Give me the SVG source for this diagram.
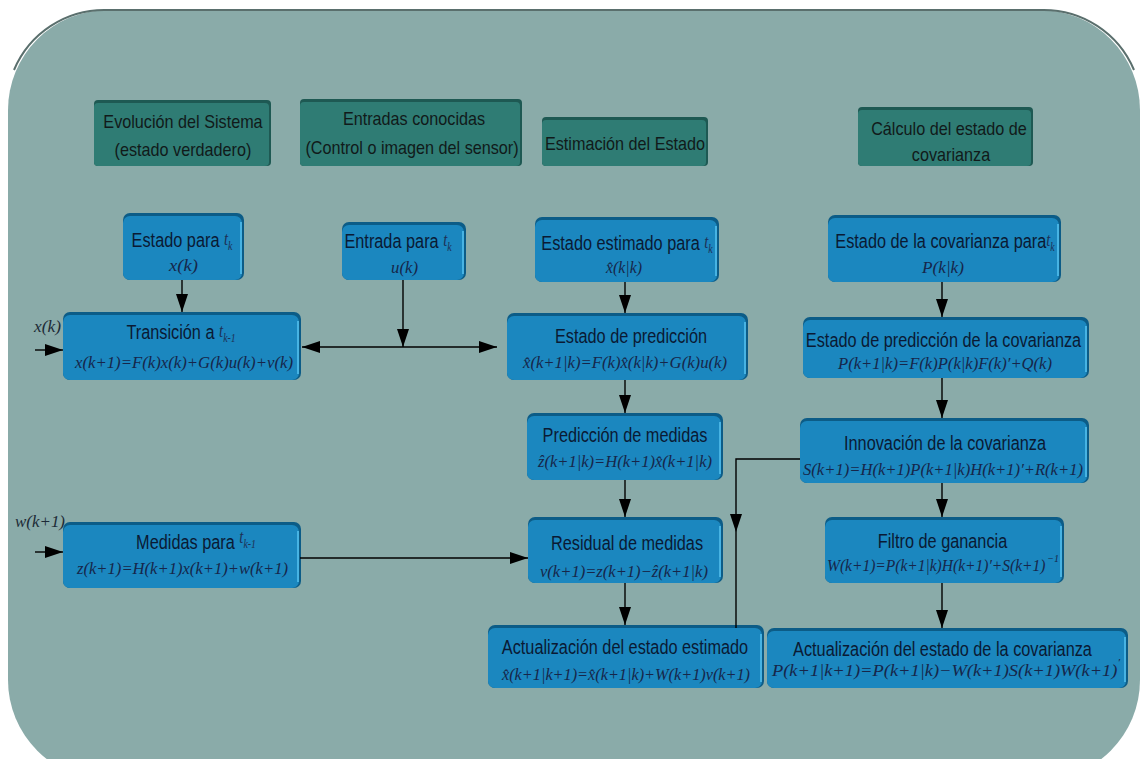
<svg xmlns="http://www.w3.org/2000/svg" width="1144" height="759" viewBox="0 0 1144 759">
  <style>
    .edge { fill: #0c5c87; }
    .face { fill: #1b87bf; }
    .rim { fill: #47b3e3; }
    .hedge { fill: #1e5953; }
    .hface { fill: #2f7c74; }
    .ttl { font-family: "Liberation Sans", Arial, sans-serif; font-size: 20px; fill: #0a1a34; text-anchor: middle; }
    .hdr { font-family: "Liberation Sans", Arial, sans-serif; font-size: 18px; fill: #111a1a; text-anchor: middle; }
    .t { font-family: "Liberation Serif", "Times New Roman", serif; font-style: italic; font-size: 18px; fill: #1d2f55; }
    .sb { font-family: "Liberation Serif", "Times New Roman", serif; font-style: italic; font-size: 12px; fill: #1d2f55; }
    .fx { font-family: "Liberation Serif", "Times New Roman", serif; font-style: italic; font-size: 17px; fill: #16264a; }
    .sup { font-size: 11px; }
    .lbl { font-family: "Liberation Serif", "Times New Roman", serif; font-style: italic; font-size: 17px; fill: #1c2a36; }
    .wire { fill: none; stroke: #000; stroke-width: 1.4; }
  </style>
  <defs>
    <marker id="arrow" markerUnits="userSpaceOnUse" markerWidth="18" markerHeight="12" refX="18" refY="6" orient="auto-start-reverse">
      <path d="M0,0 L18,6 L0,12 Z" fill="#000"/>
    </marker>
  </defs>

  <!-- panel -->
  <rect x="8" y="10" width="1132" height="770" rx="100" ry="100" fill="#8aaba9"/>
  <path d="M14,70 A98 98 0 0 1 106,10 H1042 A98 98 0 0 1 1134,70" fill="none" stroke="#5a6f6d" stroke-width="2"/>

  <!-- column headers -->
  <g id="hdr-evolucion">
    <rect class="hedge" x="94" y="100" width="177" height="66" rx="4"/>
    <rect class="hface" x="94" y="103" width="175" height="63" rx="4"/>
    <text class="hdr" transform="translate(183 128) scale(0.9 1)">Evolución del Sistema</text>
    <text class="hdr" transform="translate(183 156) scale(0.9 1)">(estado verdadero)</text>
  </g>
  <g id="hdr-entradas">
    <rect class="hedge" x="300" y="99" width="222" height="67" rx="4"/>
    <rect class="hface" x="300" y="102" width="220" height="64" rx="4"/>
    <text class="hdr" transform="translate(414 125) scale(0.9 1)">Entradas conocidas</text>
    <text class="hdr" transform="translate(412 154) scale(0.9 1)">(Control o imagen del sensor)</text>
  </g>
  <g id="hdr-estimacion">
    <rect class="hedge" x="542" y="117" width="166" height="49" rx="4"/>
    <rect class="hface" x="542" y="120" width="164" height="46" rx="4"/>
    <text class="hdr" transform="translate(625 150) scale(0.9 1)">Estimación del Estado</text>
  </g>
  <g id="hdr-covarianza">
    <rect class="hedge" x="858" y="107" width="175" height="59" rx="4"/>
    <rect class="hface" x="858" y="110" width="173" height="56" rx="4"/>
    <text class="hdr" transform="translate(949 135) scale(0.9 1)">Cálculo del estado de</text>
    <text class="hdr" transform="translate(951 161) scale(0.9 1)">covarianza</text>
  </g>

  <!-- true system evolution -->
  <g id="estado-tk">
    <rect class="edge" x="123" y="213" width="121" height="67" rx="7"/>
    <rect class="face" x="123" y="216" width="119" height="64" rx="7"/>
    <rect class="rim" x="240" y="222" width="2" height="52"/>
    <text class="ttl" transform="translate(182 247) scale(0.815 1)">Estado para  <tspan class="t" dy="-2">t</tspan><tspan class="sb" dy="5">k</tspan></text>
    <text class="fx" x="169" y="271" textLength="29" lengthAdjust="spacingAndGlyphs">x(k)</text>
  </g>
  <g id="transicion">
    <rect class="edge" x="63" y="312" width="238" height="68" rx="7"/>
    <rect class="face" x="63" y="315" width="236" height="65" rx="7"/>
    <rect class="rim" x="297" y="321" width="2" height="53"/>
    <text class="ttl" transform="translate(181 339) scale(0.815 1)">Transición a  <tspan class="t" dy="-2">t</tspan><tspan class="sb" dy="5">k-1</tspan></text>
    <text class="fx" x="75" y="368" textLength="218" lengthAdjust="spacingAndGlyphs">x(k+1)=F(k)x(k)+G(k)u(k)+v(k)</text>
  </g>
  <g id="medidas">
    <rect class="edge" x="63" y="522" width="238" height="66" rx="7"/>
    <rect class="face" x="63" y="525" width="236" height="63" rx="7"/>
    <rect class="rim" x="297" y="531" width="2" height="51"/>
    <text class="ttl" transform="translate(196 549) scale(0.815 1)">Medidas para <tspan class="t" dy="-6">t</tspan><tspan class="sb" dy="5">k-1</tspan></text>
    <text class="fx" x="77" y="574" textLength="211" lengthAdjust="spacingAndGlyphs">z(k+1)=H(k+1)x(k+1)+w(k+1)</text>
  </g>

  <!-- known inputs -->
  <g id="entrada-tk">
    <rect class="edge" x="342" y="222" width="124" height="58" rx="7"/>
    <rect class="face" x="342" y="225" width="122" height="55" rx="7"/>
    <rect class="rim" x="462" y="231" width="2" height="43"/>
    <text class="ttl" transform="translate(398 248) scale(0.815 1)">Entrada para <tspan class="t" dy="-2">t</tspan><tspan class="sb" dy="5">k</tspan></text>
    <text class="fx" x="391" y="273" textLength="27" lengthAdjust="spacingAndGlyphs">u(k)</text>
  </g>

  <!-- state estimation -->
  <g id="estado-estimado">
    <rect class="edge" x="535" y="217" width="184" height="65" rx="7"/>
    <rect class="face" x="535" y="220" width="182" height="62" rx="7"/>
    <rect class="rim" x="715" y="226" width="2" height="50"/>
    <text class="ttl" transform="translate(627 250) scale(0.815 1)">Estado estimado para <tspan class="t" dy="-2">t</tspan><tspan class="sb" dy="5">k</tspan></text>
    <text class="fx" x="606" y="273" textLength="36" lengthAdjust="spacingAndGlyphs">x̂(k|k)</text>
  </g>
  <g id="estado-prediccion">
    <rect class="edge" x="507" y="313" width="241" height="67" rx="7"/>
    <rect class="face" x="507" y="316" width="239" height="64" rx="7"/>
    <rect class="rim" x="744" y="322" width="2" height="52"/>
    <text class="ttl" transform="translate(631 343) scale(0.815 1)">Estado de predicción</text>
    <text class="fx" x="523" y="368" textLength="204" lengthAdjust="spacingAndGlyphs">x̂(k+1|k)=F(k)x̂(k|k)+G(k)u(k)</text>
  </g>
  <g id="prediccion-medidas">
    <rect class="edge" x="527" y="413" width="196" height="67" rx="7"/>
    <rect class="face" x="527" y="416" width="194" height="64" rx="7"/>
    <rect class="rim" x="719" y="422" width="2" height="52"/>
    <text class="ttl" transform="translate(625 442) scale(0.815 1)">Predicción de medidas</text>
    <text class="fx" x="538" y="467" textLength="174" lengthAdjust="spacingAndGlyphs">ẑ(k+1|k)=H(k+1)x̂(k+1|k)</text>
  </g>
  <g id="residual">
    <rect class="edge" x="528" y="517" width="195" height="66" rx="7"/>
    <rect class="face" x="528" y="520" width="193" height="63" rx="7"/>
    <rect class="rim" x="719" y="526" width="2" height="51"/>
    <text class="ttl" transform="translate(627 550) scale(0.815 1)">Residual de medidas</text>
    <text class="fx" x="540" y="577" textLength="168" lengthAdjust="spacingAndGlyphs">ν(k+1)=z(k+1)−ẑ(k+1|k)</text>
  </g>
  <g id="actualizacion-estado">
    <rect class="edge" x="488" y="625" width="276" height="63" rx="7"/>
    <rect class="face" x="488" y="628" width="274" height="60" rx="7"/>
    <rect class="rim" x="760" y="634" width="2" height="48"/>
    <text class="ttl" transform="translate(625 654) scale(0.815 1)">Actualización del estado estimado</text>
    <text class="fx" x="502" y="680" textLength="248" lengthAdjust="spacingAndGlyphs">x̂(k+1|k+1)=x̂(k+1|k)+W(k+1)ν(k+1)</text>
  </g>

  <!-- covariance computation -->
  <g id="covarianza-tk">
    <rect class="edge" x="828" y="215" width="233" height="67" rx="7"/>
    <rect class="face" x="828" y="218" width="231" height="64" rx="7"/>
    <rect class="rim" x="1057" y="224" width="2" height="52"/>
    <text class="ttl" transform="translate(945 248) scale(0.815 1)">Estado de la covarianza para<tspan class="t" dy="-2">t</tspan><tspan class="sb" dy="5">k</tspan></text>
    <text class="fx" x="922" y="273" textLength="42" lengthAdjust="spacingAndGlyphs">P(k|k)</text>
  </g>
  <g id="prediccion-covarianza">
    <rect class="edge" x="803" y="317" width="286" height="61" rx="7"/>
    <rect class="face" x="803" y="320" width="284" height="58" rx="7"/>
    <rect class="rim" x="1085" y="326" width="2" height="46"/>
    <text class="ttl" transform="translate(943.5 347) scale(0.815 1)">Estado de predicción de la covarianza</text>
    <text class="fx" x="838" y="369" textLength="214" lengthAdjust="spacingAndGlyphs">P(k+1|k)=F(k)P(k|k)F(k)′+Q(k)</text>
  </g>
  <g id="innovacion">
    <rect class="edge" x="800" y="418" width="289" height="65" rx="7"/>
    <rect class="face" x="800" y="421" width="287" height="62" rx="7"/>
    <rect class="rim" x="1085" y="427" width="2" height="50"/>
    <text class="ttl" transform="translate(945 450) scale(0.815 1)">Innovación de la covarianza</text>
    <text class="fx" x="803" y="475" textLength="280" lengthAdjust="spacingAndGlyphs">S(k+1)=H(k+1)P(k+1|k)H(k+1)′+R(k+1)</text>
  </g>
  <g id="filtro-ganancia">
    <rect class="edge" x="825" y="517" width="239" height="66" rx="7"/>
    <rect class="face" x="825" y="520" width="237" height="63" rx="7"/>
    <rect class="rim" x="1060" y="526" width="2" height="51"/>
    <text class="ttl" transform="translate(942.5 548) scale(0.815 1)">Filtro de ganancia</text>
    <text class="fx" x="827" y="571" textLength="232" lengthAdjust="spacingAndGlyphs">W(k+1)=P(k+1|k)H(k+1)′+S(k+1)<tspan class="sup" dx="2" dy="-9">−1</tspan></text>
  </g>
  <g id="actualizacion-covarianza">
    <rect class="edge" x="767" y="628" width="361" height="60" rx="7"/>
    <rect class="face" x="767" y="631" width="359" height="57" rx="7"/>
    <rect class="rim" x="1124" y="637" width="2" height="45"/>
    <text class="ttl" transform="translate(942.5 656) scale(0.815 1)">Actualización del estado de la covarianza</text>
    <text class="fx" x="772" y="676" textLength="348" lengthAdjust="spacingAndGlyphs">P(k+1|k+1)=P(k+1|k)−W(k+1)S(k+1)W(k+1)<tspan class="sup" dy="-10">′</tspan></text>
  </g>

  <!-- external input labels -->
  <g id="input-labels">
    <text class="lbl" x="34" y="332" textLength="27" lengthAdjust="spacingAndGlyphs">x(k)</text>
    <text class="lbl" x="15" y="527" textLength="50" lengthAdjust="spacingAndGlyphs">w(k+1)</text>
  </g>

  <!-- connectors -->
  <g id="connectors">
    <path class="wire" d="M35,350 H63" marker-end="url(#arrow)"/>
    <path class="wire" d="M35,552 H63" marker-end="url(#arrow)"/>
    <path class="wire" d="M182,280 V312" marker-end="url(#arrow)"/>
    <path class="wire" d="M302,347 H497" marker-start="url(#arrow)" marker-end="url(#arrow)"/>
    <path class="wire" d="M403,280 V347" marker-end="url(#arrow)"/>
    <path class="wire" d="M625,282 V313" marker-end="url(#arrow)"/>
    <path class="wire" d="M625,380 V413" marker-end="url(#arrow)"/>
    <path class="wire" d="M625,480 V517" marker-end="url(#arrow)"/>
    <path class="wire" d="M625,583 V625" marker-end="url(#arrow)"/>
    <path class="wire" d="M300,558 H528" marker-end="url(#arrow)"/>
    <path class="wire" d="M800,459 H736 V532" marker-end="url(#arrow)"/>
    <path class="wire" d="M736,532 V628"/>
    <path class="wire" d="M942,282 V317" marker-end="url(#arrow)"/>
    <path class="wire" d="M942,378 V418" marker-end="url(#arrow)"/>
    <path class="wire" d="M942,483 V517" marker-end="url(#arrow)"/>
    <path class="wire" d="M942,583 V628" marker-end="url(#arrow)"/>
  </g>
</svg>
